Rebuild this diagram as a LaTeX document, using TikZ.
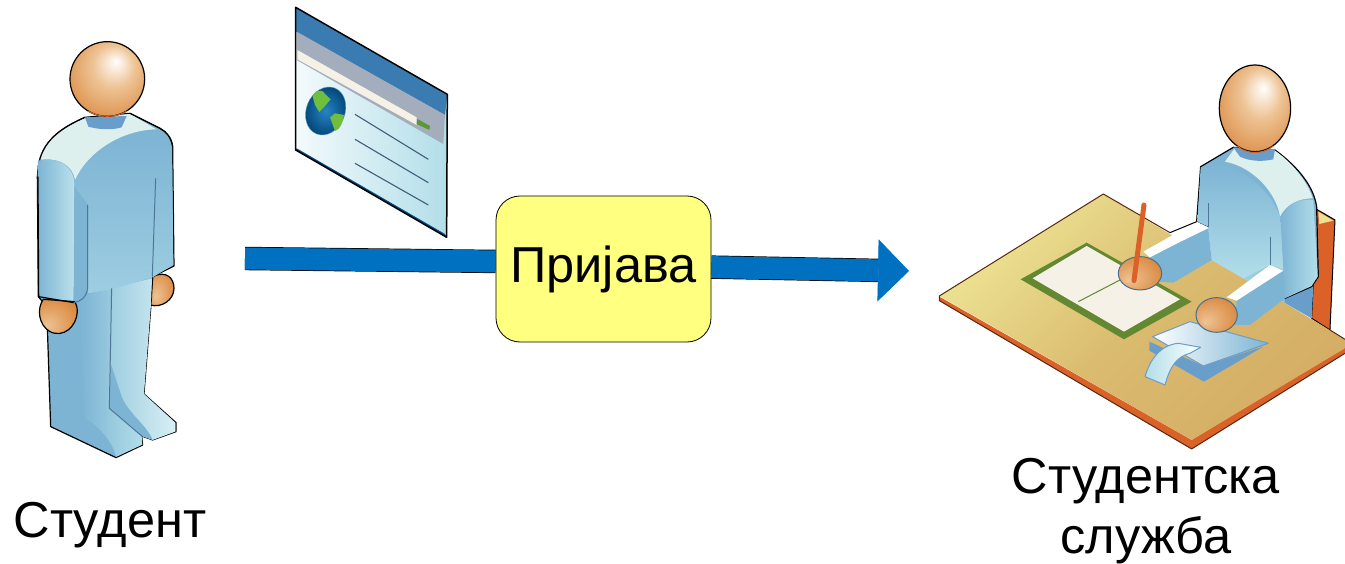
\documentclass[tikz,border=0pt]{standalone}
\usepackage{fontspec}
\setmainfont{Liberation Sans}
\usetikzlibrary{arrows.meta}
\definecolor{skinColor}{RGB}{217,133,58}
\definecolor{skinMid}{RGB}{238,196,150}
\definecolor{suitColor}{RGB}{125,180,212}
\definecolor{suitLight}{RGB}{178,222,233}
\definecolor{suitPale}{RGB}{222,240,238}
\definecolor{neckColor}{RGB}{105,158,203}
\definecolor{deskLight}{RGB}{236,226,146}
\definecolor{deskDark}{RGB}{212,174,100}
\definecolor{deskEdge}{RGB}{218,98,40}
\definecolor{paperColor}{RGB}{245,241,230}
\definecolor{paperEdge}{RGB}{100,135,50}
\definecolor{flowColor}{RGB}{0,112,192}
\definecolor{boxColor}{RGB}{255,255,128}
\definecolor{landColor}{RGB}{112,190,60}
\definecolor{windowBlue}{RGB}{58,124,178}
\definecolor{windowGray}{RGB}{163,173,188}
\pgfdeclareradialshading{headShade}{\pgfpoint{6bp}{12bp}}{color(0bp)=(white); color(14bp)=(skinMid); color(36bp)=(skinColor); color(50bp)=(skinColor)}
\pgfdeclareradialshading{handShade}{\pgfpoint{-14bp}{-10bp}}{color(0bp)=(skinMid); color(34bp)=(skinColor); color(50bp)=(skinColor)}
\begin{document}
\begin{tikzpicture}[x=1pt,y=-1pt,
  headball/.style={shading=headShade,draw=black,line width=1.2pt},
  handball/.style={shading=handShade,draw=black,line width=1.2pt},
  bluehand/.style={shading=handShade,draw=neckColor!70!black,line width=1pt},
  outline/.style={draw=black,line width=1.2pt,line join=round},
  crease/.style={draw=neckColor!75!black,line width=1pt},
  label/.style={inner sep=0pt,outer sep=0pt,font=\fontsize{50.5}{60}\selectfont,align=center},
  flowbase/.style={draw=black,line width=0.7pt,double=flowColor,double distance=22pt},
  flowtip/.style={flowbase,-{Triangle[length=31pt,width=62pt,color=flowColor,fill=flowColor]}}]
\path[use as bounding box,fill=white] (0,0) rectangle (1345,564);

% student
\begin{scope}[shift={(20,30)},scale=0.3333]
\path[handball] (398,740) .. controls (440,720) and (462,745) .. (462,775) .. controls (462,810) and (425,835) .. (390,825) -- cycle;
\path[outline,fill=suitColor] (195,262) .. controls (120,295) and (65,335) .. (55,410) --
	(52,440) -- (55,800) -- (80,830) --
	(92,1190) --
	(288,1283) --
	(368,1245) --
	(365,1218) --
	(398,1230) --
	(468,1205) --
	(468,1178) --
	(372,1092) --
	(393,825) --
	(398,740) --
	(462,708) --
	(458,350) .. controls (455,325) and (440,305) .. (420,295) --
	(330,250) -- cycle;
\path[left color=suitColor,right color=suitLight] (180,800) -- (272,775) -- (268,1135) -- (365,1218) -- (367,1244) -- (288,1281) .. controls (280,1240) and (240,1190) .. (195,1165) -- cycle;
\path[left color=suitColor!40!suitLight,right color=suitLight!50!white] (272,775) -- (268,1135) -- (365,1218) -- (398,1230) -- (466,1205) -- (466,1178) -- (372,1092) -- (393,825) -- (396,745) -- cycle;
\path[fill=suitColor] (272,1000) -- (268,1135) -- (365,1218) -- (398,1229) .. controls (375,1180) and (325,1150) .. (305,1100) -- cycle;
\path[top color=suitColor,bottom color=suitColor!40!suitLight] (165,440) .. controls (200,370) and (300,300) .. (400,298) --
	(440,312) -- (456,350) -- (460,705) -- (398,742) -- (275,778) -- (205,790) -- (162,600) -- cycle;
\path[fill=suitPale] (58,390) .. controls (120,380) and (160,410) .. (165,450) .. controls (200,370) and (300,300) .. (410,298) --
	(330,252) -- (195,264) .. controls (120,297) and (70,335) .. (58,390) -- cycle;
\path[draw=black,line width=1.2pt] (195,262) .. controls (120,295) and (65,335) .. (55,410) (330,250) -- (420,295) .. controls (440,305) and (455,325) .. (458,350);
\path[fill=neckColor] (195,262) -- (205,290) .. controls (240,300) and (280,300) .. (305,292) -- (320,258) -- cycle;
\path[left color=suitColor,right color=suitLight!90!white] (54,392) .. controls (120,380) and (160,410) .. (163,460) --
	(161,818) -- (56,800) -- (53,440) -- cycle;
\path[fill=suitColor] (163,470) -- (205,525) -- (203,775) .. controls (198,805) and (180,815) .. (161,818) -- cycle;
\path[handball] (70,808) .. controls (50,835) and (55,885) .. (90,905) .. controls (130,925) and (170,890) .. (172,845) .. controls (172,830) and (168,820) .. (163,815) -- cycle;
\path[crease] (203,525) -- (203,775) .. controls (198,805) and (180,815) .. (161,818);
\path[draw=black,line width=1.2pt] (54,440) -- (56,800) -- (161,818);
\path[crease] (407,445) -- (397,740);
\path[crease] (275,775) -- (268,1135) -- (365,1218);
\path[headball] (262,147) circle[radius=112];
\path[draw=deskEdge,line width=1pt] (205,244) .. controls (240,264) and (285,264) .. (320,244);
\end{scope}

% browser window
\begin{scope}[shift={(280,0)},scale=0.3333]
\path[left color=white!85!suitLight,right color=suitLight] (47,22) -- (502,283) -- (500,712) -- (47,450) -- cycle;
\path[fill=windowBlue] (47,22) -- (502,283) -- (495,345) -- (47,95) -- cycle;
\path[fill=windowGray] (50,95) -- (495,345) -- (490,432) -- (50,180) -- cycle;
\path[fill=paperColor] (52,150) -- (410,352) -- (410,375) -- (52,178) -- cycle;
\path[fill=landColor!80!black] (412,357) -- (450,378) -- (448,390) -- (410,372) -- cycle;
\path[fill=flowColor!70!black] (47,450) -- (500,712) -- (495,702) -- (50,445) -- cycle;
\path[inner color=flowColor!70!suitColor,outer color=flowColor!60!black,draw=neckColor,rotate around={-22:(137,333)}] (137,333) ellipse[x radius=58,y radius=74];
\path[fill=landColor] (98,290) .. controls (100,275) and (125,262) .. (135,282) --
	(152,298) -- (135,318) -- (118,336) -- (105,315) -- cycle;
\path[fill=landColor] (150,352) -- (165,340) -- (192,345) .. controls (190,365) and (180,390) .. (165,393) -- cycle;
\path[draw=neckColor!60!black,line width=1.1pt] (225,343) -- (445,478);
\path[draw=neckColor!60!black,line width=1.1pt] (225,418) -- (445,548);
\path[draw=neckColor!60!black,line width=1.1pt] (225,490) -- (445,615);
\path[draw=black,line width=1.5pt,line join=round] (47,22) -- (502,283) -- (500,712) -- (47,450) -- cycle;
\end{scope}

% clerk at the desk
\begin{scope}[shift={(930,60)},scale=0.3333]
\path[fill=deskEdge,draw=black,line width=1pt,line join=round] (1160,448) -- (1215,480) -- (1200,810) -- (1145,775) -- cycle;
\path[fill=deskLight] (1165,455) -- (1210,482) -- (1168,492) -- cycle;
\path[fill=deskEdge] (28,710) -- (785,1140) -- (1245,860) -- (1245,880) -- (785,1167) -- (28,722) -- cycle;
\path[top color=deskLight,bottom color=deskDark,middle color=deskDark!75!deskLight,shading angle=45] (520,402) -- (28,708) -- (785,1140) -- (1245,865) -- (1245,838) -- cycle;
\path[draw=black!60!deskEdge,line width=1pt,line join=round] (1245,838) -- (1200,810) (720,518) -- (520,402) -- (28,708) -- (28,722) -- (785,1167) -- (1245,880);
\path[fill=paperEdge] (470,548) -- (785,725) -- (582,838) -- (272,658) -- cycle;
\path[fill=paperColor] (470,558) -- (750,718) -- (582,815) -- (308,655) -- cycle;
\path[draw=paperEdge,line width=1pt] (445,725) -- (570,660);
\path[left color=suitLight,right color=suitColor] (835,500) -- (1020,500) -- (1060,660) -- (1145,680) -- (1145,775) -- (1065,730) -- (940,655) -- (845,600) -- cycle;
\path[fill=neckColor] (1065,715) -- (1150,680) -- (1145,775) -- (1065,728) -- cycle;
\path[fill=suitColor,draw=black,line width=1.2pt] (800,485) -- (812,320) -- (910,262) -- (1035,270) .. controls (1090,310) and (1150,370) .. (1160,440) --
	(1165,650) -- (1145,680) -- (1065,715) -- (1020,615) -- (1025,520) -- (835,500) -- cycle;
\path[top color=suitColor,bottom color=suitLight] (812,322) -- (860,310) .. controls (960,330) and (1050,420) .. (1055,500) --
	(1062,630) -- (1020,615) -- (940,655) -- (845,600) -- (835,500) -- (802,485) -- cycle;
\path[fill=suitPale] (885,305) -- (915,264) -- (1035,272) .. controls (1090,310) and (1135,370) .. (1148,415) .. controls (1110,415) and (1070,430) .. (1050,470) .. controls (1040,400) and (970,320) .. (885,305) -- cycle;
\path[left color=suitColor,right color=suitLight] (1052,480) .. controls (1070,430) and (1110,415) .. (1150,420) -- (1163,650) -- (1145,678) -- (1065,715) -- cycle;
\path[crease] (835,430) -- (835,500);
\path[crease] (1022,530) -- (1022,615);
\path[fill=neckColor] (910,262) -- (930,290) .. controls (960,305) and (1000,305) .. (1030,298) -- (1035,268) -- cycle;
\path[headball] (975,145) ellipse[x radius=107,y radius=130];
\path[draw=deskEdge,line width=1pt] (922,258) .. controls (950,284) and (1000,284) .. (1030,258);
\path[fill=suitColor] (660,590) -- (835,505) -- (845,600) -- (730,668) -- (680,665) -- cycle;
\path[fill=white] (640,575) -- (800,485) -- (835,502) -- (660,592) -- cycle;
\path[fill=suitColor] (920,720) -- (1060,630) -- (1065,715) -- (960,795) -- (915,795) -- cycle;
\path[fill=white] (890,712) -- (1020,615) -- (1060,632) -- (920,722) -- cycle;
\path[draw=black,line width=1pt] (720,518) -- (800,485);
\path[bluehand] (630,640) ellipse[x radius=65,y radius=50];
\path[draw=deskEdge,line width=5pt,line cap=round] (642,435) -- (612,662);
\path[fill=neckColor] (658,845) -- (658,872) -- (822,965) -- (1000,860) -- (820,918) -- cycle;
\path[left color=white,right color=suitColor,draw=neckColor,line width=1pt,line join=round] (668,830) -- (780,785) -- (1015,850) -- (820,918) -- cycle;
\path[left color=suitLight,right color=white,draw=neckColor,line width=1pt,line join=round] (645,950) .. controls (660,900) and (690,855) .. (745,850) -- (812,862) -- (780,880) .. controls (740,890) and (720,920) .. (705,975) -- cycle;
\path[bluehand] (860,765) ellipse[x radius=62,y radius=52];
\end{scope}

\node[label] (student) at (110,525) {Студент};
\node[label] (office) at (1146,511) {Студентска\\служба};
\node[draw=black,line width=0.8pt,fill=boxColor,rounded corners=24pt,minimum width=215pt,minimum height=146pt,inner sep=0pt,font=\fontsize{50.5}{60}\selectfont] (reg) at (603.5,269) {Пријава};
\coordinate (flowstart) at (245,258.5);
\coordinate (flowend) at (909,271);
\draw[flowbase] (flowstart) -- (reg.176.8);
\draw[flowtip] (reg.1) -- (flowend);
\end{tikzpicture}
\end{document}
